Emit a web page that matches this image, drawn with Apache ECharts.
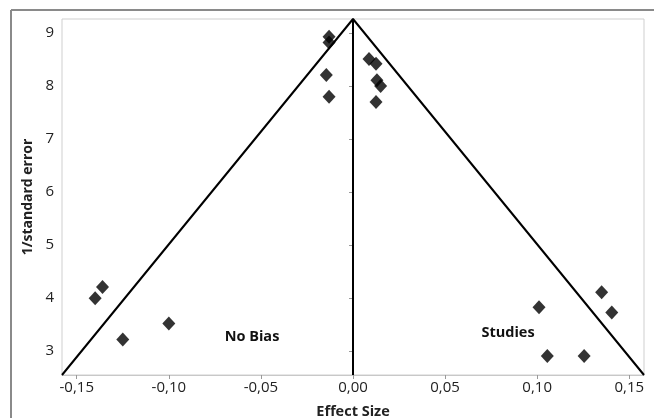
<!DOCTYPE html>
<html><head><meta charset="utf-8">
<script src="https://cdn.jsdelivr.net/npm/echarts@6/dist/echarts.min.js"></script>
<style>html,body{margin:0;padding:0;background:#fff}#c{width:654px;height:418px}</style>
</head><body><div id="c"></div>
<script>
var xTicks = [-0.15, -0.10, -0.05, 0.00, 0.05, 0.10, 0.15];
var yTicks = [3, 4, 5, 6, 7, 8, 9];
var studyX = [-0.140, -0.136, -0.125, -0.100, -0.013, -0.013, -0.0145, -0.013, 0.0087, 0.0125, 0.013, 0.015, 0.0125, 0.101, 0.1055, 0.1255, 0.135, 0.1405];
var studyY = [4.00, 4.21, 3.22, 3.52, 8.93, 8.82, 8.21, 7.80, 8.51, 8.42, 8.11, 8.00, 7.70, 3.83, 2.91, 2.91, 4.11, 3.73];
var funnelX = [-0.158, 0.0, 0.158];
var funnelY = [2.55, 9.265, 2.55];
var centerX = [0.0, 0.0];
var centerY = [2.55, 9.265];
var xMin = -0.158, xMax = 0.158, yMin = 2.55, yMax = 9.265;

var chart = echarts.init(document.getElementById('c'));
var font = '"Open Sans", "Noto Sans", sans-serif';
function zip(a, b){ return a.map(function(v,i){ return [v, b[i]]; }); }
chart.setOption({
  animation: false,
  grid: {left: 62, right: 10, top: 19, bottom: 43, show: true, borderColor: '#cfcfcf', borderWidth: 1,
    containLabel: false, outerBoundsMode: 'none'},
  xAxis: {
    type: 'value', min: xMin, max: xMax,
    name: 'Effect Size', nameLocation: 'middle', nameGap: 29,
    nameTextStyle: {fontFamily: font, fontWeight: 'bold', fontSize: 14.5, color: '#222'},
    axisLine: {show: true, lineStyle: {color: '#c8c8c8'}},
    axisTick: {show: true, length: 4, lineStyle: {color: '#999'}, customValues: xTicks},
    axisLabel: {fontFamily: font, fontSize: 15, color: '#222', margin: 5, customValues: xTicks,
      formatter: function(v){ return v.toFixed(2).replace('.', ','); }},
    splitLine: {show: false}
  },
  yAxis: {
    type: 'value', min: yMin, max: yMax,
    name: '1/standard error', nameLocation: 'middle', nameGap: 26, nameRotate: 90,
    nameTextStyle: {fontFamily: font, fontWeight: 'bold', fontSize: 14, color: '#222'},
    axisLine: {show: true, lineStyle: {color: '#c8c8c8'}},
    axisTick: {show: true, length: 4, lineStyle: {color: '#999'}, customValues: yTicks},
    axisLabel: {fontFamily: font, fontSize: 15, color: '#222', margin: 8, customValues: yTicks},
    splitLine: {show: false}
  },
  graphic: [
    {type: 'line', shape: {x1: 11, y1: 10, x2: 654, y2: 10}, style: {stroke: '#8a8a8a', lineWidth: 2}},
    {type: 'line', shape: {x1: 11, y1: 10, x2: 11, y2: 418}, style: {stroke: '#8a8a8a', lineWidth: 2}},
    {type: 'text', x: 252, y: 337, style: {text: 'No Bias', font: 'bold 14.5px ' + font, fill: '#111', align: 'center', verticalAlign: 'middle'}},
    {type: 'text', x: 508, y: 333, style: {text: 'Studies', font: 'bold 14.5px ' + font, fill: '#111', align: 'center', verticalAlign: 'middle'}}
  ],
  series: [
    {type: 'line', data: zip(funnelX, funnelY), symbol: 'none', lineStyle: {color: '#000', width: 2}, z: 2},
    {type: 'line', data: zip(centerX, centerY), symbol: 'none', lineStyle: {color: '#000', width: 2}, z: 2},
    {type: 'scatter', data: zip(studyX, studyY), symbol: 'diamond', symbolSize: [13, 14],
      itemStyle: {color: '#000'}, z: 3}
  ]
});
</script></body></html>
